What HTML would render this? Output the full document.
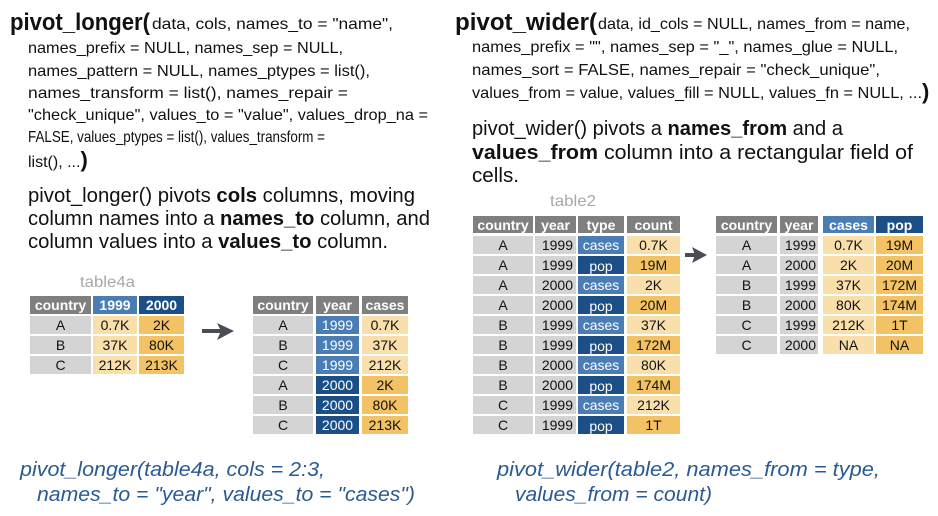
<!DOCTYPE html>
<html><head><meta charset="utf-8"><style>
html,body{margin:0;padding:0;background:#fff}
svg{display:block}
.c{font-family:"Liberation Sans",sans-serif;fill:#111}
.h{font-family:"Liberation Sans",sans-serif;font-weight:bold;fill:#fff;font-size:14px}
.t{font-family:"Liberation Sans",sans-serif;font-size:14px;fill:#111}
.w{fill:#fff}
.it{font-family:"Liberation Sans",sans-serif;font-style:italic;fill:#2b5a92;font-size:20px}
</style></head><body>
<svg width="938" height="516" viewBox="0 0 938 516" xmlns="http://www.w3.org/2000/svg">
<!-- LEFT TEXT -->
<text class="c" x="10" y="30" font-size="24" font-weight="bold" textLength="140" lengthAdjust="spacingAndGlyphs">pivot_longer(</text>
<text class="c" x="152" y="29" font-size="16" textLength="241" lengthAdjust="spacingAndGlyphs">data, cols, names_to = "name",</text>
<text class="c" x="28" y="53" font-size="16" textLength="315" lengthAdjust="spacingAndGlyphs">names_prefix = NULL, names_sep = NULL,</text>
<text class="c" x="28" y="76" font-size="16" textLength="342" lengthAdjust="spacingAndGlyphs">names_pattern = NULL, names_ptypes = list(),</text>
<text class="c" x="28" y="98" font-size="16" textLength="320" lengthAdjust="spacingAndGlyphs">names_transform = list(), names_repair =</text>
<text class="c" x="28" y="120" font-size="16" textLength="400" lengthAdjust="spacingAndGlyphs">"check_unique", values_to = "value", values_drop_na =</text>
<text class="c" x="28" y="142" font-size="16" textLength="297" lengthAdjust="spacingAndGlyphs">FALSE, values_ptypes = list(), values_transform =</text>
<text class="c" x="28" y="167" font-size="16">list(), ...<tspan font-size="22" font-weight="bold">)</tspan></text>
<text class="c" x="28" y="202" font-size="20" textLength="387" lengthAdjust="spacingAndGlyphs">pivot_longer() pivots <tspan font-weight="bold">cols</tspan> columns, moving</text>
<text class="c" x="28" y="225" font-size="20" textLength="402" lengthAdjust="spacingAndGlyphs">column names into a <tspan font-weight="bold">names_to</tspan> column, and</text>
<text class="c" x="28" y="248" font-size="20" textLength="360" lengthAdjust="spacingAndGlyphs">column values into a <tspan font-weight="bold">values_to</tspan> column.</text>
<text x="80" y="287" font-family="Liberation Sans,sans-serif" font-size="16" fill="#a8a8a8" textLength="55" lengthAdjust="spacingAndGlyphs">table4a</text>

<!-- RIGHT TEXT -->
<text class="c" x="455" y="30" font-size="24" font-weight="bold" textLength="142" lengthAdjust="spacingAndGlyphs">pivot_wider(</text>
<text class="c" x="598" y="29" font-size="16" textLength="312" lengthAdjust="spacingAndGlyphs">data, id_cols = NULL, names_from = name,</text>
<text class="c" x="472" y="52" font-size="16" textLength="426" lengthAdjust="spacingAndGlyphs">names_prefix = "", names_sep = "_", names_glue = NULL,</text>
<text class="c" x="472" y="75" font-size="16" textLength="408" lengthAdjust="spacingAndGlyphs">names_sort = FALSE, names_repair = "check_unique",</text>
<text class="c" x="472" y="98" font-size="16" textLength="450" lengthAdjust="spacingAndGlyphs">values_from = value, values_fill = NULL, values_fn = NULL, ...</text>
<text class="c" x="922" y="99" font-size="22" font-weight="bold">)</text>
<text class="c" x="472" y="135" font-size="20" textLength="371" lengthAdjust="spacingAndGlyphs">pivot_wider() pivots a <tspan font-weight="bold">names_from</tspan> and a</text>
<text class="c" x="472" y="159" font-size="20" textLength="441" lengthAdjust="spacingAndGlyphs"><tspan font-weight="bold">values_from</tspan> column into a rectangular field of</text>
<text class="c" x="472" y="182" font-size="20" textLength="47" lengthAdjust="spacingAndGlyphs">cells.</text>
<text x="550" y="206" font-family="Liberation Sans,sans-serif" font-size="16" fill="#a8a8a8" textLength="46" lengthAdjust="spacingAndGlyphs">table2</text>

<!-- TABLE4A -->
<g>
<rect x="30" y="296" width="61" height="18" fill="#7f7f7f"/><rect x="93" y="296" width="44" height="18" fill="#4a7db3"/><rect x="139" y="296" width="45" height="18" fill="#1c4f85"/>
<text class="h" x="60.5" y="310" text-anchor="middle">country</text><text class="h" x="115" y="310" text-anchor="middle">1999</text><text class="h" x="161.5" y="310" text-anchor="middle">2000</text>
<rect x="30" y="316" width="61" height="18" fill="#d4d4d4"/><rect x="93" y="316" width="44" height="18" fill="#f9dfab"/><rect x="139" y="316" width="45" height="18" fill="#f2c265"/>
<rect x="30" y="336" width="61" height="18" fill="#d4d4d4"/><rect x="93" y="336" width="44" height="18" fill="#f9dfab"/><rect x="139" y="336" width="45" height="18" fill="#f2c265"/>
<rect x="30" y="356" width="61" height="18" fill="#d4d4d4"/><rect x="93" y="356" width="44" height="18" fill="#f9dfab"/><rect x="139" y="356" width="45" height="18" fill="#f2c265"/>
<text class="t" x="60.5" y="330" text-anchor="middle">A</text><text class="t" x="115" y="330" text-anchor="middle">0.7K</text><text class="t" x="161.5" y="330" text-anchor="middle">2K</text>
<text class="t" x="60.5" y="350" text-anchor="middle">B</text><text class="t" x="115" y="350" text-anchor="middle">37K</text><text class="t" x="161.5" y="350" text-anchor="middle">80K</text>
<text class="t" x="60.5" y="370" text-anchor="middle">C</text><text class="t" x="115" y="370" text-anchor="middle">212K</text><text class="t" x="161.5" y="370" text-anchor="middle">213K</text>
</g>
<!-- arrow 1 -->
<rect x="202" y="329" width="20" height="4" fill="#4a4d55"/><polygon points="217,323 234,331 217,340 221,331" fill="#4a4d55"/>

<!-- LONG TABLE -->
<g>
<rect x="253" y="296" width="60" height="18" fill="#7f7f7f"/><rect x="316" y="296" width="43" height="18" fill="#7f7f7f"/><rect x="362" y="296" width="46" height="18" fill="#7f7f7f"/>
<text class="h" x="283" y="310" text-anchor="middle">country</text><text class="h" x="337.5" y="310" text-anchor="middle">year</text><text class="h" x="385" y="310" text-anchor="middle">cases</text>
<rect x="253" y="316" width="60" height="18" fill="#d4d4d4"/><rect x="316" y="316" width="43" height="18" fill="#4a7db3"/><rect x="362" y="316" width="46" height="18" fill="#f9dfab"/>
<rect x="253" y="336" width="60" height="18" fill="#d4d4d4"/><rect x="316" y="336" width="43" height="18" fill="#4a7db3"/><rect x="362" y="336" width="46" height="18" fill="#f9dfab"/>
<rect x="253" y="356" width="60" height="18" fill="#d4d4d4"/><rect x="316" y="356" width="43" height="18" fill="#4a7db3"/><rect x="362" y="356" width="46" height="18" fill="#f9dfab"/>
<rect x="253" y="376" width="60" height="18" fill="#d4d4d4"/><rect x="316" y="376" width="43" height="18" fill="#1c4f85"/><rect x="362" y="376" width="46" height="18" fill="#f2c265"/>
<rect x="253" y="396" width="60" height="18" fill="#d4d4d4"/><rect x="316" y="396" width="43" height="18" fill="#1c4f85"/><rect x="362" y="396" width="46" height="18" fill="#f2c265"/>
<rect x="253" y="416" width="60" height="18" fill="#d4d4d4"/><rect x="316" y="416" width="43" height="18" fill="#1c4f85"/><rect x="362" y="416" width="46" height="18" fill="#f2c265"/>
<text class="t" x="283" y="330" text-anchor="middle">A</text><text class="t w" x="337.5" y="330" text-anchor="middle">1999</text><text class="t" x="385" y="330" text-anchor="middle">0.7K</text>
<text class="t" x="283" y="350" text-anchor="middle">B</text><text class="t w" x="337.5" y="350" text-anchor="middle">1999</text><text class="t" x="385" y="350" text-anchor="middle">37K</text>
<text class="t" x="283" y="370" text-anchor="middle">C</text><text class="t w" x="337.5" y="370" text-anchor="middle">1999</text><text class="t" x="385" y="370" text-anchor="middle">212K</text>
<text class="t" x="283" y="390" text-anchor="middle">A</text><text class="t w" x="337.5" y="390" text-anchor="middle">2000</text><text class="t" x="385" y="390" text-anchor="middle">2K</text>
<text class="t" x="283" y="410" text-anchor="middle">B</text><text class="t w" x="337.5" y="410" text-anchor="middle">2000</text><text class="t" x="385" y="410" text-anchor="middle">80K</text>
<text class="t" x="283" y="430" text-anchor="middle">C</text><text class="t w" x="337.5" y="430" text-anchor="middle">2000</text><text class="t" x="385" y="430" text-anchor="middle">213K</text>
</g>

<!-- TABLE2 -->
<g>
<rect x="473" y="216" width="60" height="17" fill="#7f7f7f"/><rect x="535" y="216" width="41" height="17" fill="#7f7f7f"/><rect x="578" y="216" width="46" height="17" fill="#7f7f7f"/><rect x="627" y="216" width="53" height="17" fill="#7f7f7f"/>
<text class="h" x="503" y="230" text-anchor="middle">country</text><text class="h" x="555.5" y="230" text-anchor="middle">year</text><text class="h" x="601" y="230" text-anchor="middle">type</text><text class="h" x="653.5" y="230" text-anchor="middle">count</text>
</g>

<!-- WIDE TABLE -->
<g>
<rect x="716" y="216" width="61" height="17" fill="#7f7f7f"/><rect x="780" y="216" width="38" height="17" fill="#7f7f7f"/><rect x="823" y="216" width="51" height="17" fill="#4a7db3"/><rect x="876" y="216" width="47" height="17" fill="#1c4f85"/>
<text class="h" x="746.5" y="230" text-anchor="middle">country</text><text class="h" x="799" y="230" text-anchor="middle">year</text><text class="h" x="848.5" y="230" text-anchor="middle">cases</text><text class="h" x="899.5" y="230" text-anchor="middle">pop</text>
</g>

<!-- table2 rows -->
<g>
<rect x="473" y="236" width="60" height="18" fill="#d4d4d4"/><rect x="535" y="236" width="41" height="18" fill="#d4d4d4"/><rect x="578" y="236" width="46" height="18" fill="#4a7db3"/><rect x="627" y="236" width="53" height="18" fill="#f9dfab"/>
<rect x="473" y="256" width="60" height="18" fill="#d4d4d4"/><rect x="535" y="256" width="41" height="18" fill="#d4d4d4"/><rect x="578" y="256" width="46" height="18" fill="#1c4f85"/><rect x="627" y="256" width="53" height="18" fill="#f2c265"/>
<rect x="473" y="276" width="60" height="18" fill="#d4d4d4"/><rect x="535" y="276" width="41" height="18" fill="#d4d4d4"/><rect x="578" y="276" width="46" height="18" fill="#4a7db3"/><rect x="627" y="276" width="53" height="18" fill="#f9dfab"/>
<rect x="473" y="296" width="60" height="18" fill="#d4d4d4"/><rect x="535" y="296" width="41" height="18" fill="#d4d4d4"/><rect x="578" y="296" width="46" height="18" fill="#1c4f85"/><rect x="627" y="296" width="53" height="18" fill="#f2c265"/>
<rect x="473" y="316" width="60" height="18" fill="#d4d4d4"/><rect x="535" y="316" width="41" height="18" fill="#d4d4d4"/><rect x="578" y="316" width="46" height="18" fill="#4a7db3"/><rect x="627" y="316" width="53" height="18" fill="#f9dfab"/>
<rect x="473" y="336" width="60" height="18" fill="#d4d4d4"/><rect x="535" y="336" width="41" height="18" fill="#d4d4d4"/><rect x="578" y="336" width="46" height="18" fill="#1c4f85"/><rect x="627" y="336" width="53" height="18" fill="#f2c265"/>
<rect x="473" y="356" width="60" height="18" fill="#d4d4d4"/><rect x="535" y="356" width="41" height="18" fill="#d4d4d4"/><rect x="578" y="356" width="46" height="18" fill="#4a7db3"/><rect x="627" y="356" width="53" height="18" fill="#f9dfab"/>
<rect x="473" y="376" width="60" height="18" fill="#d4d4d4"/><rect x="535" y="376" width="41" height="18" fill="#d4d4d4"/><rect x="578" y="376" width="46" height="18" fill="#1c4f85"/><rect x="627" y="376" width="53" height="18" fill="#f2c265"/>
<rect x="473" y="396" width="60" height="18" fill="#d4d4d4"/><rect x="535" y="396" width="41" height="18" fill="#d4d4d4"/><rect x="578" y="396" width="46" height="18" fill="#4a7db3"/><rect x="627" y="396" width="53" height="18" fill="#f9dfab"/>
<rect x="473" y="416" width="60" height="18" fill="#d4d4d4"/><rect x="535" y="416" width="41" height="18" fill="#d4d4d4"/><rect x="578" y="416" width="46" height="18" fill="#1c4f85"/><rect x="627" y="416" width="53" height="18" fill="#f2c265"/>
<text class="t" x="503" y="250" text-anchor="middle">A</text><text class="t" x="573" y="250" text-anchor="end">1999</text><text class="t w" x="601" y="250" text-anchor="middle">cases</text><text class="t" x="653.5" y="250" text-anchor="middle">0.7K</text>
<text class="t" x="503" y="270" text-anchor="middle">A</text><text class="t" x="573" y="270" text-anchor="end">1999</text><text class="t w" x="601" y="271" text-anchor="middle">pop</text><text class="t" x="653.5" y="270" text-anchor="middle">19M</text>
<text class="t" x="503" y="290" text-anchor="middle">A</text><text class="t" x="573" y="290" text-anchor="end">2000</text><text class="t w" x="601" y="290" text-anchor="middle">cases</text><text class="t" x="653.5" y="290" text-anchor="middle">2K</text>
<text class="t" x="503" y="310" text-anchor="middle">A</text><text class="t" x="573" y="310" text-anchor="end">2000</text><text class="t w" x="601" y="311" text-anchor="middle">pop</text><text class="t" x="653.5" y="310" text-anchor="middle">20M</text>
<text class="t" x="503" y="330" text-anchor="middle">B</text><text class="t" x="573" y="330" text-anchor="end">1999</text><text class="t w" x="601" y="330" text-anchor="middle">cases</text><text class="t" x="653.5" y="330" text-anchor="middle">37K</text>
<text class="t" x="503" y="350" text-anchor="middle">B</text><text class="t" x="573" y="350" text-anchor="end">1999</text><text class="t w" x="601" y="351" text-anchor="middle">pop</text><text class="t" x="653.5" y="350" text-anchor="middle">172M</text>
<text class="t" x="503" y="370" text-anchor="middle">B</text><text class="t" x="573" y="370" text-anchor="end">2000</text><text class="t w" x="601" y="370" text-anchor="middle">cases</text><text class="t" x="653.5" y="370" text-anchor="middle">80K</text>
<text class="t" x="503" y="390" text-anchor="middle">B</text><text class="t" x="573" y="390" text-anchor="end">2000</text><text class="t w" x="601" y="391" text-anchor="middle">pop</text><text class="t" x="653.5" y="390" text-anchor="middle">174M</text>
<text class="t" x="503" y="410" text-anchor="middle">C</text><text class="t" x="573" y="410" text-anchor="end">1999</text><text class="t w" x="601" y="410" text-anchor="middle">cases</text><text class="t" x="653.5" y="410" text-anchor="middle">212K</text>
<text class="t" x="503" y="430" text-anchor="middle">C</text><text class="t" x="573" y="430" text-anchor="end">1999</text><text class="t w" x="601" y="431" text-anchor="middle">pop</text><text class="t" x="653.5" y="430" text-anchor="middle">1T</text>
</g>
<!-- arrow 2 -->
<rect x="685" y="253" width="12" height="4" fill="#4a4d55"/><polygon points="692,247 707,255 692,263 695,255" fill="#4a4d55"/>

<!-- wide rows -->
<g>
<rect x="716" y="236" width="61" height="18" fill="#d4d4d4"/><rect x="780" y="236" width="38" height="18" fill="#d4d4d4"/><rect x="823" y="236" width="51" height="18" fill="#f9dfab"/><rect x="876" y="236" width="47" height="18" fill="#f2c265"/>
<rect x="716" y="256" width="61" height="18" fill="#d4d4d4"/><rect x="780" y="256" width="38" height="18" fill="#d4d4d4"/><rect x="823" y="256" width="51" height="18" fill="#f9dfab"/><rect x="876" y="256" width="47" height="18" fill="#f2c265"/>
<rect x="716" y="276" width="61" height="18" fill="#d4d4d4"/><rect x="780" y="276" width="38" height="18" fill="#d4d4d4"/><rect x="823" y="276" width="51" height="18" fill="#f9dfab"/><rect x="876" y="276" width="47" height="18" fill="#f2c265"/>
<rect x="716" y="296" width="61" height="18" fill="#d4d4d4"/><rect x="780" y="296" width="38" height="18" fill="#d4d4d4"/><rect x="823" y="296" width="51" height="18" fill="#f9dfab"/><rect x="876" y="296" width="47" height="18" fill="#f2c265"/>
<rect x="716" y="316" width="61" height="18" fill="#d4d4d4"/><rect x="780" y="316" width="38" height="18" fill="#d4d4d4"/><rect x="823" y="316" width="51" height="18" fill="#f9dfab"/><rect x="876" y="316" width="47" height="18" fill="#f2c265"/>
<rect x="716" y="336" width="61" height="18" fill="#d4d4d4"/><rect x="780" y="336" width="38" height="18" fill="#d4d4d4"/><rect x="823" y="336" width="51" height="18" fill="#f9dfab"/><rect x="876" y="336" width="47" height="18" fill="#f2c265"/>
<text class="t" x="746.5" y="250" text-anchor="middle">A</text><text class="t" x="816" y="250" text-anchor="end">1999</text><text class="t" x="848.5" y="250" text-anchor="middle">0.7K</text><text class="t" x="899.5" y="250" text-anchor="middle">19M</text>
<text class="t" x="746.5" y="270" text-anchor="middle">A</text><text class="t" x="816" y="270" text-anchor="end">2000</text><text class="t" x="848.5" y="270" text-anchor="middle">2K</text><text class="t" x="899.5" y="270" text-anchor="middle">20M</text>
<text class="t" x="746.5" y="290" text-anchor="middle">B</text><text class="t" x="816" y="290" text-anchor="end">1999</text><text class="t" x="848.5" y="290" text-anchor="middle">37K</text><text class="t" x="899.5" y="290" text-anchor="middle">172M</text>
<text class="t" x="746.5" y="310" text-anchor="middle">B</text><text class="t" x="816" y="310" text-anchor="end">2000</text><text class="t" x="848.5" y="310" text-anchor="middle">80K</text><text class="t" x="899.5" y="310" text-anchor="middle">174M</text>
<text class="t" x="746.5" y="330" text-anchor="middle">C</text><text class="t" x="816" y="330" text-anchor="end">1999</text><text class="t" x="848.5" y="330" text-anchor="middle">212K</text><text class="t" x="899.5" y="330" text-anchor="middle">1T</text>
<text class="t" x="746.5" y="350" text-anchor="middle">C</text><text class="t" x="816" y="350" text-anchor="end">2000</text><text class="t" x="848.5" y="350" text-anchor="middle">NA</text><text class="t" x="899.5" y="350" text-anchor="middle">NA</text>
</g>

<!-- bottom code -->
<text class="it" x="20" y="476" textLength="305" lengthAdjust="spacingAndGlyphs">pivot_longer(table4a, cols = 2:3,</text>
<text class="it" x="37" y="501" textLength="378" lengthAdjust="spacingAndGlyphs">names_to = "year", values_to = "cases")</text>
<text class="it" x="497" y="476" textLength="383" lengthAdjust="spacingAndGlyphs">pivot_wider(table2, names_from = type,</text>
<text class="it" x="515" y="501" textLength="197" lengthAdjust="spacingAndGlyphs">values_from = count)</text>
</svg>
</body></html>
